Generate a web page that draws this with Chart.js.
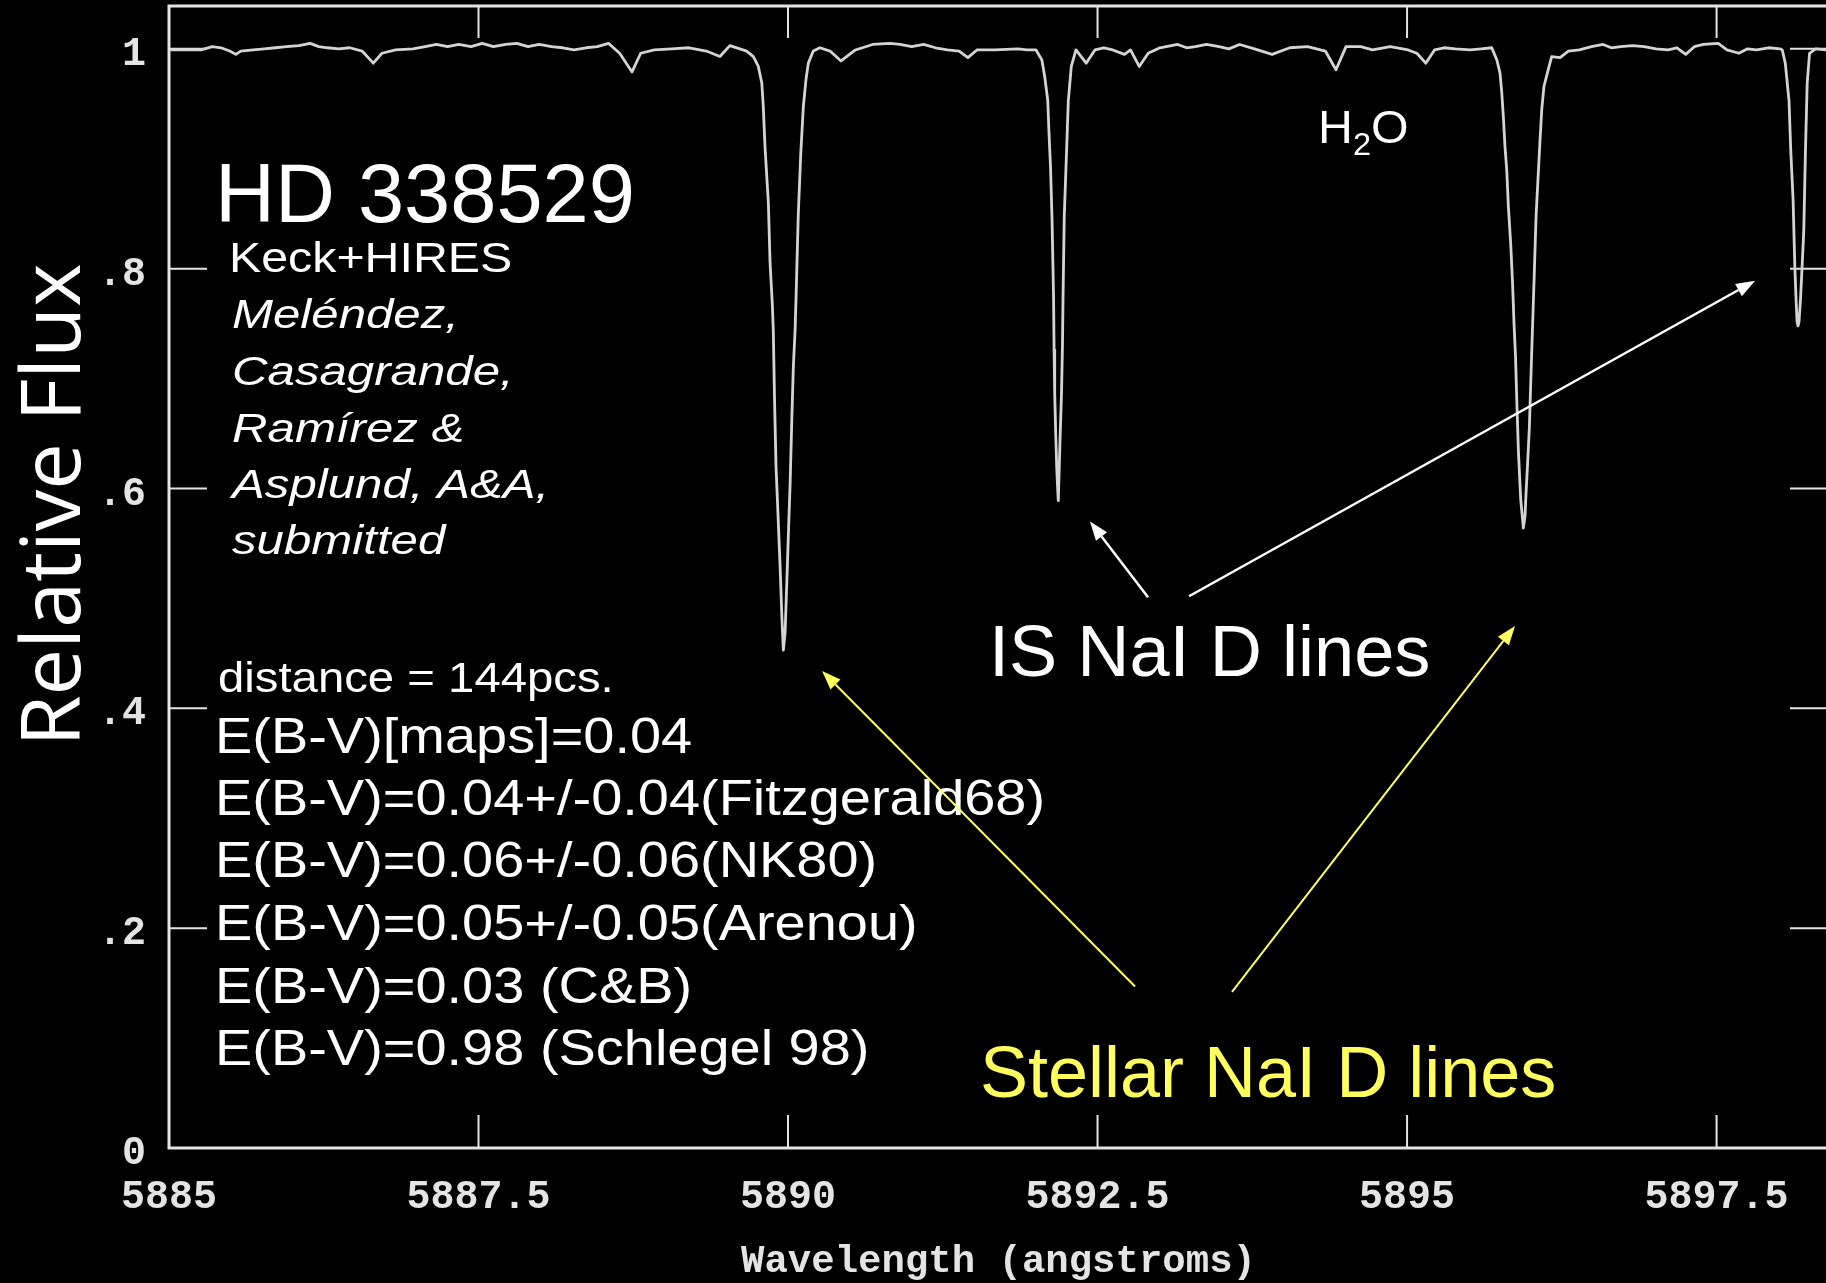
<!DOCTYPE html>
<html>
<head>
<meta charset="utf-8">
<title>HD 338529 - NaI D</title>
<script src="https://cdn.jsdelivr.net/npm/chart.js@4.4.1/dist/chart.umd.min.js"></script>
<style>
    html, body { margin: 0; padding: 0; background: #000; overflow: hidden; }
    #wrap { width: 1850px; height: 1283px; }
    canvas { display: block; }
</style>
</head>
<body>
<div id="wrap"><canvas id="spectrum" width="1850" height="1283"></canvas></div>
<script>
/* =========================
   SPECTRUM (angstroms / relative flux)
========================= */
const WAVELENGTH = [
    // continuum up to stellar D2
    5885.010, 5885.260, 5885.350, 5885.420, 5885.490, 5885.540, 5885.580, 5885.680,
    5885.770, 5885.860, 5885.950, 5886.050, 5886.140, 5886.210, 5886.280, 5886.370,
    5886.460, 5886.560, 5886.650, 5886.720, 5886.830, 5886.970, 5887.070, 5887.160,
    5887.250, 5887.340, 5887.440, 5887.530, 5887.620, 5887.720, 5887.810, 5887.900,
    5887.990, 5888.090, 5888.180, 5888.270, 5888.370, 5888.460, 5888.550, 5888.640,
    5888.740, 5888.810, 5888.920, 5889.060, 5889.200, 5889.340, 5889.450, 5889.530,
    // stellar D2
    5889.666, 5889.720, 5889.760, 5889.788, 5889.800, 5889.814, 5889.841, 5889.855,
    5889.873, 5889.881, 5889.891, 5889.903, 5889.914, 5889.936, 5889.950, 5889.962,
    5889.976, 5889.990, 5890.003, 5890.017, 5890.031, 5890.043, 5890.057, 5890.065,
    5890.083, 5890.103, 5890.124, 5890.145, 5890.164, 5890.204, 5890.258,
    // continuum
    5890.339, 5890.428, 5890.544, 5890.683, 5890.822, 5890.905, 5891.000, 5891.095,
    5891.190, 5891.287, 5891.382, 5891.453, 5891.525, 5891.668, 5891.859, 5891.930,
    // interstellar D2
    5892.003, 5892.050, 5892.073, 5892.098, 5892.108, 5892.120, 5892.132, 5892.145,
    5892.149, 5892.154, 5892.162, 5892.170, 5892.177, 5892.183, 5892.191, 5892.197,
    5892.209, 5892.217, 5892.221, 5892.231, 5892.250, 5892.264, 5892.288, 5892.326,
    // continuum with H2O features
    5892.408, 5892.479, 5892.551, 5892.622, 5892.718, 5892.766, 5892.837, 5892.909,
    5893.004, 5893.147, 5893.220, 5893.290, 5893.380, 5893.481, 5893.560, 5893.648,
    5893.767, 5893.910, 5894.053, 5894.197, 5894.340, 5894.426, 5894.507, 5894.626,
    5894.721, 5894.864, 5895.008, 5895.079, 5895.151, 5895.222, 5895.300, 5895.389,
    // stellar D1
    5895.509, 5895.600, 5895.684, 5895.725, 5895.751, 5895.765, 5895.778, 5895.791,
    5895.805, 5895.818, 5895.837, 5895.852, 5895.864, 5895.876, 5895.886, 5895.899,
    5895.918, 5895.934, 5895.939, 5895.953, 5895.961, 5895.975, 5895.988, 5895.999,
    5896.012, 5896.026, 5896.042, 5896.060, 5896.074, 5896.088, 5896.106, 5896.133,
    // continuum
    5896.168, 5896.236, 5896.303, 5896.392, 5896.490, 5896.583, 5896.650, 5896.726,
    5896.820, 5896.916, 5897.010, 5897.108, 5897.180, 5897.251, 5897.320, 5897.394,
    5897.513, 5897.584, 5897.680, 5897.750, 5897.823, 5897.920, 5898.014,
    // interstellar D1
    5898.031, 5898.055, 5898.085, 5898.099, 5898.118, 5898.132, 5898.142, 5898.150,
    5898.158, 5898.166, 5898.178, 5898.204, 5898.218, 5898.232, 5898.251, 5898.300,
    5898.385, 5898.400
];

const FLUX = [
    0.999, 0.999, 1.002, 1.001, 0.998, 0.995, 0.998, 0.999,
    1.000, 1.001, 1.002, 1.003, 1.005, 1.002, 1.001, 1.000,
    1.001, 0.998, 0.987, 0.996, 0.999, 1.000, 1.002, 1.004,
    1.002, 1.004, 1.002, 1.005, 1.002, 1.004, 1.005, 1.002,
    1.004, 1.002, 1.001, 0.999, 1.001, 1.002, 1.005, 0.996,
    0.979, 0.996, 0.999, 1.000, 1.001, 0.998, 0.993, 1.003,

    0.998, 0.993, 0.984, 0.969, 0.948, 0.911, 0.860, 0.805,
    0.768, 0.744, 0.681, 0.620, 0.590, 0.529, 0.484, 0.453,
    0.468, 0.514, 0.559, 0.605, 0.665, 0.711, 0.744, 0.775,
    0.850, 0.905, 0.948, 0.972, 0.987, 0.998, 1.001,

    0.998, 0.989, 0.999, 1.004, 1.005, 1.004, 1.002, 1.004,
    1.001, 0.999, 0.998, 0.992, 0.999, 0.999, 1.000, 0.999,

    0.999, 0.990, 0.975, 0.953, 0.923, 0.893, 0.847, 0.772,
    0.726, 0.687, 0.650, 0.620, 0.602, 0.589, 0.620, 0.644,
    0.687, 0.732, 0.772, 0.847, 0.908, 0.953, 0.984, 0.999,

    0.987, 0.999, 1.001, 0.999, 0.995, 0.999, 0.984, 0.996,
    1.001, 1.004, 1.001, 1.002, 1.004, 1.002, 1.000, 1.004,
    1.000, 0.995, 1.001, 1.002, 0.998, 0.981, 1.002, 1.002,
    0.999, 1.002, 0.999, 0.996, 0.987, 0.999, 1.001, 1.000,

    0.999, 1.000, 1.001, 0.990, 0.978, 0.960, 0.938, 0.911,
    0.890, 0.857, 0.823, 0.787, 0.750, 0.720, 0.681, 0.635,
    0.590, 0.571, 0.564, 0.575, 0.596, 0.626, 0.656, 0.696,
    0.742, 0.790, 0.848, 0.887, 0.917, 0.945, 0.966, 0.978,

    0.993, 0.992, 0.998, 0.999, 1.002, 1.004, 1.001, 1.002,
    1.003, 1.002, 1.000, 0.999, 1.001, 0.995, 1.002, 1.004,
    1.005, 0.999, 0.996, 1.000, 0.999, 1.001, 1.000,

    0.999, 0.987, 0.953, 0.908, 0.863, 0.802, 0.772, 0.752,
    0.748, 0.752, 0.772, 0.833, 0.908, 0.969, 0.996, 1.000,
    0.999, 0.999
];

const X_TICKS = [5885, 5887.5, 5890, 5892.5, 5895, 5897.5];
const X_TICK_LABELS = ["5885", "5887.5", "5890", "5892.5", "5895", "5897.5"];
const Y_TICKS = [0, 0.2, 0.4, 0.6, 0.8, 1];
const Y_TICK_LABELS = ["0", ".2", ".4", ".6", ".8", "1"];

const X_MIN = 5885;
const X_MAX = 5898.4;
const Y_MIN = 0;
const Y_MAX = 1.039;

/* arrows: [from wavelength, from flux, to wavelength, to flux] */
const IS_ARROWS = [
    [5892.908, 0.501, 5892.439, 0.570],
    [5893.239, 0.502, 5897.811, 0.789]
];
const STELLAR_ARROWS = [
    [5892.803, 0.147, 5890.275, 0.434],
    [5893.586, 0.142, 5895.872, 0.475]
];

/* =========================
   STYLE
========================= */
const AXIS_COLOR = "#e4e4e4";
const LINE_COLOR = "#d4d4d4";
const TEXT_COLOR = "#ffffff";
const YELLOW = "#ffff5e";
const SANS = '"Liberation Sans", Arial, sans-serif';
const MONO = '"Liberation Mono", "Courier New", monospace';

/* text blocks on the plot: x, baseline y (pixels), size, horizontal stretch */
const NOTES = [
    { text: "HD 338529", x: 215, y: 222, size: 83, sx: 1 },
    { text: "Keck+HIRES", x: 229, y: 272, size: 42, sx: 1.15 },
    { text: "Meléndez,", x: 232, y: 328, size: 41, sx: 1.2, italic: true },
    { text: "Casagrande,", x: 232, y: 385, size: 41, sx: 1.2, italic: true },
    { text: "Ramírez &", x: 232, y: 442, size: 41, sx: 1.2, italic: true },
    { text: "Asplund, A&A,", x: 232, y: 498, size: 41, sx: 1.2, italic: true },
    { text: "submitted", x: 232, y: 554, size: 41, sx: 1.2, italic: true },
    { text: "distance = 144pcs.", x: 218, y: 692, size: 43, sx: 1.1 },
    { text: "E(B-V)[maps]=0.04", x: 215, y: 753, size: 49.5, sx: 1.13 },
    { text: "E(B-V)=0.04+/-0.04(Fitzgerald68)", x: 215, y: 815, size: 49.5, sx: 1.13 },
    { text: "E(B-V)=0.06+/-0.06(NK80)", x: 215, y: 877, size: 49.5, sx: 1.13 },
    { text: "E(B-V)=0.05+/-0.05(Arenou)", x: 215, y: 940, size: 49.5, sx: 1.13 },
    { text: "E(B-V)=0.03 (C&B)", x: 215, y: 1003, size: 49.5, sx: 1.13 },
    { text: "E(B-V)=0.98 (Schlegel 98)", x: 215, y: 1065, size: 49.5, sx: 1.13 },
    { text: "IS NaI D lines", x: 989, y: 676, size: 71.5, sx: 1.01 },
    { text: "Stellar NaI D lines", x: 980, y: 1097, size: 72, sx: 1, color: YELLOW }
];

/* =========================
   HELPERS
========================= */
function drawLine(ctx, x0, y0, x1, y1) {
    ctx.beginPath();
    ctx.moveTo(x0, y0);
    ctx.lineTo(x1, y1);
    ctx.stroke();
}

function drawText(ctx, text, x, y, font, color, sx) {
    ctx.save();
    ctx.font = font;
    ctx.fillStyle = color;
    ctx.textAlign = "left";
    ctx.textBaseline = "alphabetic";
    ctx.translate(x, y);
    ctx.scale(sx, 1);
    ctx.fillText(text, 0, 0);
    ctx.restore();
}

function drawArrow(ctx, x0, y0, x1, y1, color, width, headLen, headHalf) {
    const ang = Math.atan2(y1 - y0, x1 - x0);
    const bx = x1 - headLen * Math.cos(ang);
    const by = y1 - headLen * Math.sin(ang);

    ctx.strokeStyle = color;
    ctx.fillStyle = color;
    ctx.lineWidth = width;
    drawLine(ctx, x0, y0, bx, by);

    ctx.beginPath();
    ctx.moveTo(x1, y1);
    ctx.lineTo(bx + headHalf * Math.sin(ang), by - headHalf * Math.cos(ang));
    ctx.lineTo(bx - headHalf * Math.sin(ang), by + headHalf * Math.cos(ang));
    ctx.closePath();
    ctx.fill();
}

/* =========================
   FRAME + INWARD TICKS
========================= */
const framePlugin = {
    id: "frame",
    beforeDatasetsDraw(chart) {
        const { ctx, chartArea: a, scales: { x, y } } = chart;

        ctx.save();
        ctx.strokeStyle = AXIS_COLOR;
        ctx.lineWidth = 3;
        ctx.strokeRect(a.left, a.top, a.right - a.left, a.bottom - a.top);

        ctx.lineWidth = 2;
        X_TICKS.slice(1).forEach(v => {
            const px = x.getPixelForValue(v);
            drawLine(ctx, px, a.bottom, px, a.bottom - 33);
            drawLine(ctx, px, a.top, px, a.top + 32);
        });
        Y_TICKS.slice(1).forEach(v => {
            const py = y.getPixelForValue(v);
            drawLine(ctx, a.left, py, a.left + 38, py);
            drawLine(ctx, a.right, py, a.right - 38, py);
        });
        ctx.restore();
    }
};

/* =========================
   LABELS AND ARROWS
========================= */
const notesPlugin = {
    id: "notes",
    afterDraw(chart) {
        const { ctx, scales: { x, y } } = chart;

        ctx.save();

        // y axis title
        ctx.font = '83px "Open Sans", sans-serif';
        ctx.fillStyle = TEXT_COLOR;
        ctx.textAlign = "center";
        ctx.textBaseline = "alphabetic";
        ctx.translate(80, 505);
        ctx.rotate(-Math.PI / 2);
        ctx.fillText("Relative Flux", 0, 0);
        ctx.setTransform(1, 0, 0, 1, 0, 0);

        NOTES.forEach(n => {
            const font = (n.italic ? "italic " : "") + n.size + "px " + SANS;
            drawText(ctx, n.text, n.x, n.y, font, n.color || TEXT_COLOR, n.sx);
        });

        // H2O with subscript
        drawText(ctx, "H", 1318, 143, "46px " + SANS, TEXT_COLOR, 1.05);
        drawText(ctx, "2", 1353, 155, "31px " + SANS, TEXT_COLOR, 1.05);
        drawText(ctx, "O", 1371, 143, "46px " + SANS, TEXT_COLOR, 1.05);

        IS_ARROWS.forEach(([w0, f0, w1, f1]) => {
            drawArrow(ctx,
                x.getPixelForValue(w0), y.getPixelForValue(f0),
                x.getPixelForValue(w1), y.getPixelForValue(f1),
                TEXT_COLOR, 2.5, 19, 7);
        });
        STELLAR_ARROWS.forEach(([w0, f0, w1, f1]) => {
            drawArrow(ctx,
                x.getPixelForValue(w0), y.getPixelForValue(f0),
                x.getPixelForValue(w1), y.getPixelForValue(f1),
                YELLOW, 2, 19, 7);
        });

        ctx.restore();
    }
};

/* =========================
   CHART
========================= */
if (WAVELENGTH.length !== FLUX.length) {
    console.warn("spectrum arrays differ", WAVELENGTH.length, FLUX.length);
}

const points = WAVELENGTH.map((w, i) => ({ x: w, y: FLUX[i] }));

new Chart(document.getElementById("spectrum"), {
    type: "scatter",
    data: {
        datasets: [{
            data: points,
            showLine: true,
            borderColor: LINE_COLOR,
            borderWidth: 2.8,
            borderJoinStyle: "round",
            pointRadius: 0,
            tension: 0
        }]
    },
    options: {
        responsive: false,
        animation: false,
        devicePixelRatio: 1,
        layout: { padding: { left: 0, right: 22, top: 6, bottom: 0 } },
        plugins: {
            legend: { display: false },
            tooltip: { enabled: false }
        },
        scales: {
            x: {
                type: "linear",
                min: X_MIN,
                max: X_MAX,
                grid: { display: false, drawTicks: false },
                border: { display: false },
                afterBuildTicks: s => { s.ticks = X_TICKS.map(v => ({ value: v })); },
                afterFit: s => { s.height = 135; s.paddingLeft = 0; s.paddingRight = 0; },
                ticks: {
                    color: AXIS_COLOR,
                    autoSkip: false,
                    maxRotation: 0,
                    padding: 30,
                    font: { family: MONO, weight: "bold", size: 40, lineHeight: 1 },
                    callback: (v, i) => X_TICK_LABELS[i]
                },
                title: {
                    display: true,
                    text: "Wavelength (angstroms)",
                    color: AXIS_COLOR,
                    font: { family: MONO, weight: "bold", size: 39, lineHeight: 1 },
                    padding: { top: 0, bottom: 1 }
                }
            },
            y: {
                type: "linear",
                min: Y_MIN,
                max: Y_MAX,
                grid: { display: false, drawTicks: false },
                border: { display: false },
                afterBuildTicks: s => { s.ticks = Y_TICKS.map(v => ({ value: v })); },
                afterFit: s => { s.width = 169; s.paddingTop = 0; s.paddingBottom = 0; },
                ticks: {
                    color: AXIS_COLOR,
                    autoSkip: false,
                    padding: 23,
                    labelOffset: 6,
                    font: { family: MONO, weight: "bold", size: 40, lineHeight: 1 },
                    callback: (v, i) => Y_TICK_LABELS[i]
                }
            }
        }
    },
    plugins: [framePlugin, notesPlugin]
});
</script>
</body>
</html>
